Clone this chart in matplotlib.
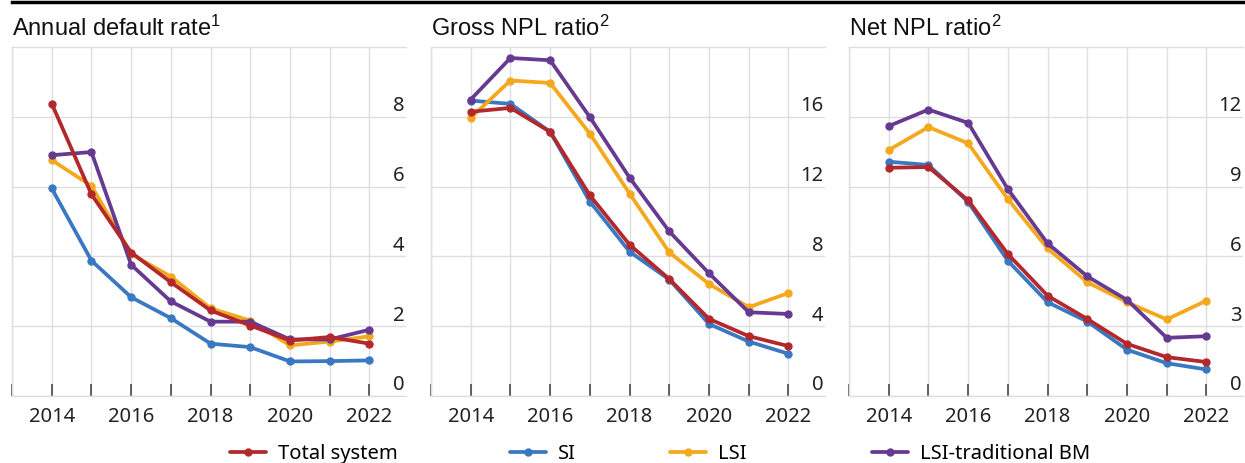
import numpy as np
import matplotlib
matplotlib.use('Agg')
import matplotlib.pyplot as plt
from matplotlib.lines import Line2D

plt.rcParams['mathtext.fontset'] = 'custom'
plt.rcParams['mathtext.rm'] = 'Liberation Sans'
plt.rcParams['mathtext.it'] = 'Liberation Sans'

years = [2014, 2015, 2016, 2017, 2018, 2019, 2020, 2021, 2022]

# annual default rate
dr_total = [8.38, 5.78, 4.11, 3.26, 2.45, 2.02, 1.59, 1.69, 1.50]
dr_si    = [5.95, 3.88, 2.83, 2.23, 1.50, 1.40, 0.99, 1.00, 1.02]
dr_lsi   = [6.76, 6.02, 4.07, 3.42, 2.51, 2.16, 1.45, 1.56, 1.71]
dr_trad  = [6.90, 6.99, 3.76, 2.71, 2.13, 2.13, 1.62, 1.62, 1.90]

# gross NPL ratio
gross_total = [16.29, 16.51, 15.14, 11.50, 8.67, 6.70, 4.42, 3.43, 2.86]
gross_si    = [16.93, 16.74, 15.14, 11.14, 8.27, 6.67, 4.13, 3.12, 2.42]
gross_lsi   = [15.94, 18.08, 17.94, 15.03, 11.60, 8.23, 6.42, 5.09, 5.90]
gross_trad  = [16.99, 19.37, 19.24, 15.98, 12.51, 9.43, 7.03, 4.80, 4.70]

# net NPL ratio
net_total = [9.81, 9.84, 8.41, 6.10, 4.31, 3.31, 2.24, 1.67, 1.46]
net_si    = [10.07, 9.93, 8.34, 5.81, 4.03, 3.20, 1.99, 1.41, 1.14]
net_lsi   = [10.57, 11.56, 10.86, 8.46, 6.34, 4.89, 4.03, 3.29, 4.10]
net_trad  = [11.60, 12.31, 11.74, 8.89, 6.56, 5.14, 4.13, 2.50, 2.57]

titles = [r"Annual default rate$^{\mathrm{1}}$", r"Gross NPL ratio$^{\mathrm{2}}$",
          r"Net NPL ratio$^{\mathrm{2}}$"]
y_ticks = [[0, 2, 4, 6, 8], [0, 4, 8, 12, 16], [0, 3, 6, 9, 12]]
y_max = [10, 20, 15]

series_names = ["Total system", "SI", "LSI", "LSI-traditional BM"]
colors = {"Total system": "#b3282d", "SI": "#3a78c2",
          "LSI": "#f4a81d", "LSI-traditional BM": "#673a92"}

panels = [
    {"SI": dr_si, "LSI": dr_lsi, "LSI-traditional BM": dr_trad, "Total system": dr_total},
    {"SI": gross_si, "LSI": gross_lsi, "LSI-traditional BM": gross_trad, "Total system": gross_total},
    {"SI": net_si, "LSI": net_lsi, "LSI-traditional BM": net_trad, "Total system": net_total},
]

W, H = 1245, 463
fig = plt.figure(figsize=(W / 100, H / 100), dpi=100)

lefts = [12, 431, 849]
width = 394
top, bottom = 47, 396
grid_c = '#dedede'
tick_font = 'Noto Sans'

handles = {}
for i, ax_left in enumerate(lefts):
    ax = fig.add_axes([ax_left / W, (H - bottom) / H, width / W, (bottom - top) / H])
    for name in ["SI", "LSI", "LSI-traditional BM", "Total system"]:
        ln, = ax.plot(years, panels[i][name], color=colors[name], lw=2.7,
                      marker='o', ms=5, solid_capstyle='round')
        handles[name] = ln

    ax.set_xlim(2013, 2022.92)
    ax.set_ylim(0, y_max[i])
    ax.set_xticks(range(2013, 2023))
    ax.set_xticklabels([str(y) if y % 2 == 0 else '' for y in range(2013, 2023)],
                       fontfamily=tick_font, fontsize=14.5, color='#222222')
    ax.tick_params(axis='x', direction='in', length=9, width=1.3, color='#555555', pad=8)
    ax.set_yticks(y_ticks[i])
    ax.set_yticklabels([])
    ax.tick_params(axis='y', length=0)
    ax.grid(True, color=grid_c, lw=1)
    ax.set_axisbelow(True)
    for s in ['top', 'left', 'bottom']:
        ax.spines[s].set_color(grid_c)
        ax.spines[s].set_linewidth(1)
    ax.spines['right'].set_visible(False)

    for v in y_ticks[i]:
        ax.annotate(str(v), xy=(1, v), xycoords=('axes fraction', 'data'),
                    xytext=(-1, 4), textcoords='offset points', ha='right', va='baseline',
                    fontfamily=tick_font, fontsize=14.5, color='#222222')

    fig.text(ax_left / W, (H - 36) / H, titles[i], fontfamily='Liberation Sans',
             fontsize=17, color='#111111', ha='left', va='baseline')

# top rule
fig.add_artist(Line2D([12 / W, 1], [(H - 1.5) / H, (H - 1.5) / H], color='black', lw=2.5))

# one legend entry each, placed like the original
legend_x = {"Total system": 230, "SI": 510, "LSI": 670, "LSI-traditional BM": 872}
for name in series_names:
    leg = fig.legend([handles[name]], [name], loc='center left',
                     bbox_to_anchor=(legend_x[name] / W, (H - 454) / H), frameon=False,
                     borderpad=0, borderaxespad=0, handlelength=1.8, handletextpad=0.6,
                     numpoints=1, prop={'family': tick_font, 'size': 14.5})

fig.savefig('out.png', dpi=100)
